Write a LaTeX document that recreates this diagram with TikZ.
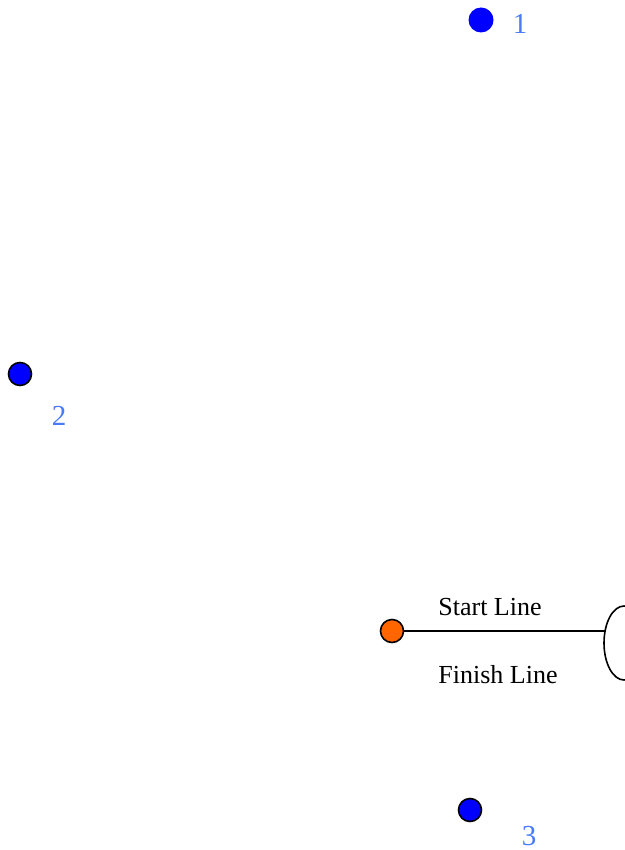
\documentclass[tikz,border=0pt]{standalone}
\usepackage{fontspec}
\setmainfont{Liberation Serif}
\definecolor{labelblue}{RGB}{72,122,250}
\definecolor{startorange}{RGB}{255,102,0}

\begin{document}
\begin{tikzpicture}[x=1pt, y=-1pt, inner sep=0pt]
	\tikzstyle{point}=[circle, minimum size=23pt, fill=blue, draw=black, line width=1.6pt]
	\tikzstyle{num}=[text=labelblue, font=\fontsize{29}{29}\selectfont]
	\tikzstyle{linelabel}=[font=\fontsize{26}{26}\selectfont]
	\useasboundingbox (0, 0) rectangle (624, 850);
		\node[point, draw=none, minimum size=25pt] (p1) at (481, 20) {};
		\node[point] (p2) at (20, 374) {};
		\node[point] (p3) at (470, 810) {};
		\node[point, fill=startorange] (start) at (392, 631) {};
		\node[num] (n1) at (520, 24) {1};
		\node[num] (n2) at (59, 416) {2};
		\node[num] (n3) at (529, 836) {3};

		\draw[line width=1.6pt] (624, 643) ellipse (20 and 37);
		\coordinate (gate) at (604.5, 631);
		\draw[line width=1.6pt] (start) -- (gate);
		\node[linelabel] (startlabel) at (490, 607) {Start Line};
		\node[linelabel] (finishlabel) at (498, 675) {Finish Line};
	\end{tikzpicture}
\end{document}
